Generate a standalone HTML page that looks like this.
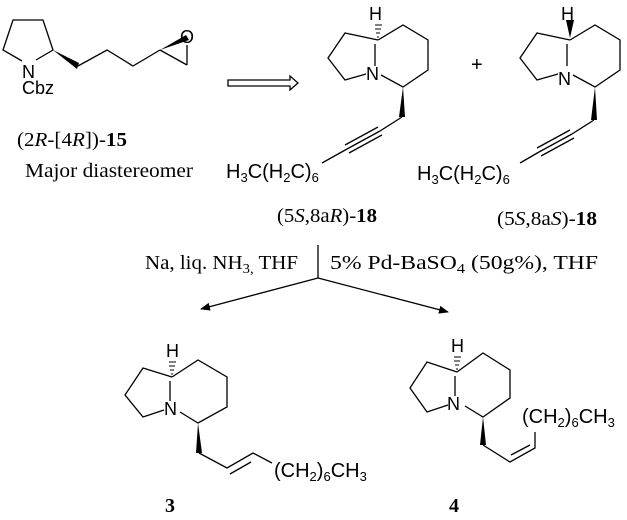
<!DOCTYPE html>
<html><head><style>body{margin:0;background:#fff}svg{display:block}</style></head>
<body>
<svg width="627" height="520" viewBox="0 0 627 520" xmlns="http://www.w3.org/2000/svg">
<defs>
<marker id="ah" markerWidth="10" markerHeight="8" refX="9" refY="4" orient="auto" markerUnits="userSpaceOnUse">
<path d="M0,0 L10,4 L0,8 Z" fill="#000"/></marker>
</defs>
<g stroke="#000" stroke-width="1.3" fill="none">
<polyline points="22,61 3,50 13,20 43,20 53,50 36,60"/>
<polyline points="78,66 107,50 133,66 160,50"/>
<line x1="160" y1="50" x2="187" y2="65"/>
<line x1="187" y1="65" x2="187" y2="45"/>
<path d="M228,80 H290 V76 L298,83 L290,90 V86 H228 Z"/>
<polyline points="378,40 345,33 328,58 345,80 366,74"/>
<polyline points="378,40 403,25 428,40 428,70 403,87 381,75"/>
<line x1="375" y1="44" x2="375" y2="66"/>
<polyline points="402,117 380,131"/>
<line x1="380" y1="131" x2="347" y2="149"/>
<line x1="378" y1="127" x2="345" y2="145"/>
<line x1="382" y1="135" x2="349" y2="153"/>
<line x1="347" y1="149" x2="322" y2="163"/>
<polyline points="570,40 537,33 520,58 537,80 558,74"/>
<polyline points="570,40 595,25 620,40 620,70 595,87 573,75"/>
<line x1="567" y1="44" x2="567" y2="66"/>
<polyline points="594,120 572,134"/>
<line x1="572" y1="134" x2="539" y2="152"/>
<line x1="570" y1="130" x2="537" y2="148"/>
<line x1="574" y1="138" x2="541" y2="156"/>
<line x1="539" y1="152" x2="520" y2="163"/>
<line x1="318" y1="245" x2="318" y2="278"/>
<line x1="318" y1="278" x2="201" y2="309" marker-end="url(#ah)"/>
<line x1="318" y1="278" x2="448" y2="312" marker-end="url(#ah)"/>
<polyline points="172,377 143,368 125,395 143,417 164,410"/>
<polyline points="172,377 198,360 227,377 227,407 198,423 180,412"/>
<line x1="170" y1="381" x2="170" y2="401"/>
<polyline points="199,453 227,468 253,453 272,463"/>
<line x1="230" y1="474" x2="251" y2="462"/>
<polyline points="457,372 427,362 410,388 427,412 448,405"/>
<polyline points="457,372 483,353 510,370 510,398 483,417 465,406"/>
<line x1="455" y1="376" x2="455" y2="396"/>
<polyline points="483,445 510,462 535,448 535,432"/>
<line x1="511" y1="455" x2="530" y2="445"/>
</g>
<g fill="#000" stroke="none">
<polygon points="53,50 79,63 77,69"/>
<polygon points="160,50 186,35 189,40"/>
<polygon points="403,87 399,117 405,117"/>
<polygon points="595,87 591,120 597,120"/>
<polygon points="570,38 566,20 574,20"/>
<polygon points="198,423 196,453 202,453"/>
<polygon points="483,417 480,445 486,445"/>
</g>
<g stroke="#000" stroke-width="1">
<line x1="377" y1="37" x2="379" y2="37"/><line x1="376" y1="33" x2="380" y2="33"/><line x1="375" y1="29" x2="381" y2="29"/><line x1="375" y1="25" x2="382" y2="25"/>
<line x1="171" y1="374" x2="173" y2="374"/><line x1="170" y1="370" x2="174" y2="370"/><line x1="169" y1="366" x2="175" y2="366"/><line x1="169" y1="362" x2="176" y2="362"/>
<line x1="456" y1="369" x2="458" y2="369"/><line x1="455" y1="365" x2="459" y2="365"/><line x1="454" y1="361" x2="460" y2="361"/><line x1="454" y1="357" x2="461" y2="357"/>
</g>
<g font-family="Liberation Sans, sans-serif" font-size="18" fill="#000">
<text x="22" y="78">N</text>
<text x="22" y="94">Cbz</text>
<text x="180" y="43">O</text>
<text x="366" y="80">N</text>
<text x="369" y="20">H</text>
<text x="558" y="85">N</text>
<text x="561" y="20">H</text>
<text x="164" y="415">N</text>
<text x="166" y="357">H</text>
<text x="447" y="410">N</text>
<text x="451" y="352">H</text>
<g font-size="20">
<text x="226" y="178">H<tspan font-size="13" dy="4">3</tspan><tspan dy="-4">C(H</tspan><tspan font-size="13" dy="4">2</tspan><tspan dy="-4">C)</tspan><tspan font-size="13" dy="4">6</tspan></text>
<text x="417" y="180">H<tspan font-size="13" dy="4">3</tspan><tspan dy="-4">C(H</tspan><tspan font-size="13" dy="4">2</tspan><tspan dy="-4">C)</tspan><tspan font-size="13" dy="4">6</tspan></text>
<text x="274" y="477">(CH<tspan font-size="13" dy="4">2</tspan><tspan dy="-4">)</tspan><tspan font-size="13" dy="4">6</tspan><tspan dy="-4">CH</tspan><tspan font-size="13" dy="4">3</tspan></text>
<text x="522" y="423">(CH<tspan font-size="13" dy="4">2</tspan><tspan dy="-4">)</tspan><tspan font-size="13" dy="4">6</tspan><tspan dy="-4">CH</tspan><tspan font-size="13" dy="4">3</tspan></text>
</g>
<text x="471" y="71" font-size="20">+</text>
</g>
<g font-family="Liberation Serif, serif" font-size="20" fill="#000">
<text x="17" y="146" textLength="110" lengthAdjust="spacingAndGlyphs">(2<tspan font-style="italic">R</tspan>-[4<tspan font-style="italic">R</tspan>])-<tspan font-weight="bold">15</tspan></text>
<text x="25" y="177" textLength="168" lengthAdjust="spacingAndGlyphs">Major diastereomer</text>
<text x="277" y="222" textLength="100" lengthAdjust="spacingAndGlyphs">(5<tspan font-style="italic">S</tspan>,8a<tspan font-style="italic">R</tspan>)-<tspan font-weight="bold">18</tspan></text>
<text x="497" y="225" textLength="100" lengthAdjust="spacingAndGlyphs">(5<tspan font-style="italic">S</tspan>,8a<tspan font-style="italic">S</tspan>)-<tspan font-weight="bold">18</tspan></text>
<text x="145" y="269" font-size="20" textLength="153" lengthAdjust="spacingAndGlyphs">Na, liq. NH<tspan font-size="14" dy="4">3,</tspan><tspan dy="-4"> THF</tspan></text>
<text x="330" y="269" font-size="20" textLength="268" lengthAdjust="spacingAndGlyphs">5% Pd-BaSO<tspan font-size="14" dy="4">4</tspan><tspan dy="-4"> (50g%), THF</tspan></text>
<text x="165" y="512" font-weight="bold">3</text>
<text x="449" y="512" font-weight="bold">4</text>
</g>
</svg>
</body></html>
